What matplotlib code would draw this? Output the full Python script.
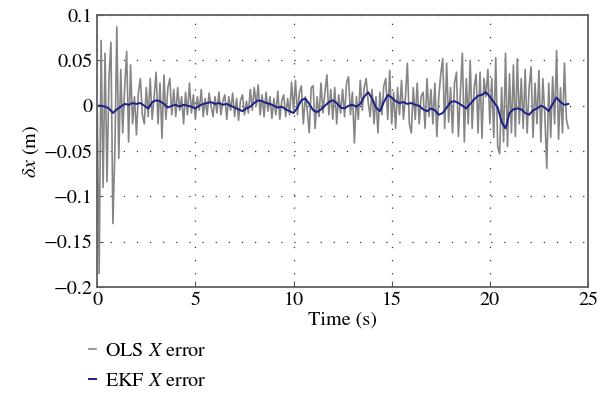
import numpy as np
import matplotlib
matplotlib.use("Agg")
import matplotlib.pyplot as plt

plt.rcParams['font.family'] = ['STIXGeneral', 'DejaVu Serif']
plt.rcParams['mathtext.fontset'] = 'stix'

# OLS X error, sampled every 0.1 s (0 .. 24 s)
ols_err = [
    0.0, -0.185, 0.072, -0.09, 0.058, -0.084, 0.03, 0.07, -0.13, -0.05,
    0.087, -0.058, 0.04, -0.03, 0.02, 0.06, -0.04, 0.045, -0.02, 0.01,
    -0.032, 0.015, 0.03, -0.01, -0.02, 0.02, -0.012, 0.03, -0.015, 0.01,
    0.037, -0.02, 0.025, -0.036, 0.034, -0.015, 0.02, 0.03, -0.01, 0.018,
    -0.012, 0.02, -0.005, 0.01, -0.02, 0.015, -0.01, 0.025, -0.008, 0.012,
    -0.015, 0.01, -0.005, 0.018, -0.012, 0.008, -0.01, 0.014, 0.0, -0.012,
    0.01, -0.008, 0.015, -0.01, 0.005, 0.012, -0.015, 0.01, -0.005, 0.014,
    -0.012, 0.008, -0.016, 0.006, 0.012, -0.01, 0.005, -0.008, 0.018, -0.005,
    0.02, 0.0, 0.023, -0.01, 0.012, -0.012, 0.015, -0.006, 0.01, -0.014,
    0.008, -0.01, 0.016, -0.015, 0.005, 0.012, -0.012, 0.008, -0.01, 0.026,
    -0.005, 0.028, -0.01, 0.015, 0.022, -0.02, 0.01, -0.005, -0.03, 0.02,
    0.022, -0.025, 0.01, -0.012, 0.025, -0.008, 0.015, 0.034, -0.01, 0.018,
    -0.015, 0.02, -0.02, 0.012, -0.008, 0.018, -0.012, 0.025, 0.032, -0.01,
    0.015, -0.041, 0.01, -0.015, 0.028, -0.005, 0.02, 0.03, 0.005, -0.012,
    0.018, -0.02, 0.01, -0.03, 0.015, -0.01, 0.022, 0.03, -0.015, 0.039,
    -0.02, 0.015, -0.025, 0.02, -0.01, 0.028, -0.015, 0.01, 0.047, -0.02,
    -0.03, 0.02, -0.015, 0.025, -0.02, 0.01, 0.015, -0.025, 0.03, -0.012,
    0.018, -0.02, 0.025, -0.034, 0.01, 0.035, 0.052, -0.025, 0.047, -0.018,
    0.02, -0.03, 0.025, 0.037, -0.034, 0.015, 0.058, -0.04, 0.03, -0.02,
    0.05, -0.025, 0.02, 0.035, -0.03, 0.037, -0.036, 0.03, 0.01, 0.04,
    -0.02, 0.03, -0.035, 0.053, -0.045, -0.053, 0.02, -0.04, 0.058, -0.045,
    0.035, -0.03, 0.045, -0.034, 0.052, -0.02, 0.03, -0.025, 0.04, -0.03,
    0.02, 0.043, -0.035, 0.025, -0.02, 0.039, -0.04, 0.03, -0.01, -0.069,
    0.025, -0.035, 0.032, -0.02, 0.061, -0.037, 0.02, -0.03, 0.047, -0.015,
    -0.025,
]

# EKF X error, sampled every 0.2 s (0 .. 24 s)
ekf_err = [
    0.0, 0.0, -0.001, -0.003, -0.008, -0.004, -0.001, 0.002, 0.001, 0.003,
    0.002, 0.003, 0.0, -0.003, 0.004, 0.006, 0.005, 0.002, -0.002, 0.0,
    0.001, -0.001, 0.001, 0.0, -0.001, -0.003, 0.0, 0.002, 0.003, 0.004,
    0.002, 0.003, 0.001, 0.002, 0.0, -0.002, -0.004, -0.006, -0.003, -0.001,
    0.003, 0.006, 0.005, 0.003, 0.002, 0.0, -0.002, -0.001, -0.004, -0.006,
    -0.008, -0.002, 0.006, 0.008, 0.002, -0.005, -0.007, -0.004, 0.0, 0.004,
    0.006, 0.003, -0.002, -0.003, 0.0, 0.001, -0.001, 0.002, 0.01, 0.015,
    0.008, -0.002, -0.006, 0.004, 0.012, 0.009, 0.005, 0.003, 0.004, 0.002,
    0.003, 0.001, 0.0, -0.004, -0.006, -0.003, -0.005, -0.01, -0.008, -0.002,
    0.004, 0.005, 0.003, 0.0, -0.003, 0.002, 0.007, 0.011, 0.012, 0.015,
    0.01, 0.004, -0.002, -0.018, -0.025, -0.008, -0.004, -0.003, -0.004, -0.008,
    -0.01, -0.005, -0.003, 0.0, -0.002, -0.006, 0.002, 0.009, 0.004, 0.001,
    0.002,
]

t_ols = np.arange(len(ols_err)) * 0.1
t_ekf = np.arange(len(ekf_err)) * 0.2

fig = plt.figure(figsize=(6, 3.98), dpi=100)
ax = fig.add_axes([0.162, 0.279, 0.818, 0.683])

ax.plot(t_ols, ols_err, color='#858585', lw=1.2, label='OLS $X$ error')
ax.plot(t_ekf, ekf_err, color='#1c1f86', lw=1.4, label='EKF $X$ error')

ax.set_xlim(0, 25)
ax.set_ylim(-0.2, 0.1)
ax.set_xticks([0, 5, 10, 15, 20, 25])
ax.set_yticks([-0.2, -0.15, -0.1, -0.05, 0, 0.05, 0.1])
ax.set_yticklabels(['\u22120.2', '\u22120.15', '\u22120.1', '\u22120.05', '0', '0.05', '0.1'])
ax.tick_params(direction='in', labelsize=14.5, length=4, color='#555555')
ax.grid(True, color='#333333', lw=0.9, linestyle=(0, (1, 9.5)))
for s in ax.spines.values():
    s.set_color('#606060')
    s.set_linewidth(1.3)

ax.set_xlabel('Time (s)', fontsize=14.5, labelpad=2)
ax.set_ylabel(r'$\delta x$ (m)', fontsize=14.5, labelpad=2)

fig.legend(loc='upper left', bbox_to_anchor=(0.135, 0.16), frameon=False,
           fontsize=14.5, handlelength=0.35, handletextpad=0.45,
           labelspacing=0.55, borderaxespad=0)

fig.savefig('out.png', dpi=100)
